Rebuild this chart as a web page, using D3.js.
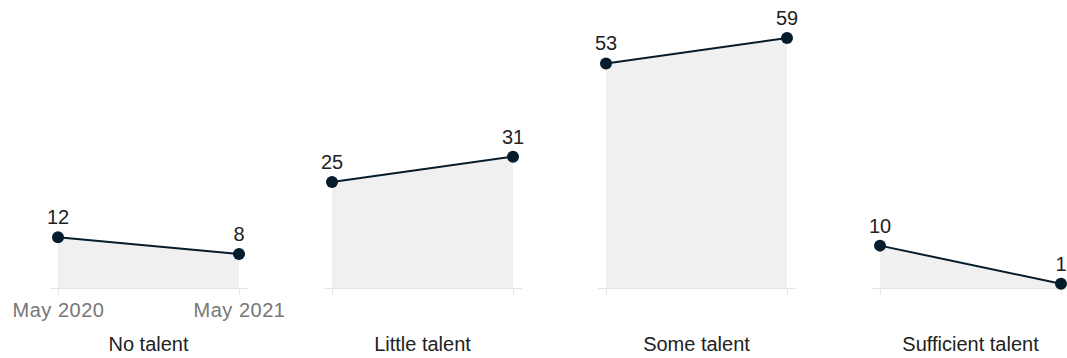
<!DOCTYPE html>
<html><head><meta charset="utf-8">
<script src="https://cdn.jsdelivr.net/npm/d3@7"></script>
<style>
html,body{margin:0;padding:0;background:#fff;}
svg{display:block;font-family:"Liberation Sans",Arial,sans-serif;}
</style></head>
<body><svg id="c" width="1067" height="358"></svg>
<script>
const categories = ["No talent", "Little talent", "Some talent", "Sufficient talent"];
const periods = ["May 2020", "May 2021"];
const may2020 = [12, 25, 53, 10];
const may2021 = [8, 31, 59, 1];

const svg = d3.select("#c");
const baseY = 288, topY = 38;
const y = d3.scaleLinear().domain([0, 59]).range([baseY, topY]);
const navy = "#051c2c";
const font = '"Liberation Sans",Arial,sans-serif';

categories.forEach((cat, i) => {
  const x0 = 58 + i * 274;
  const x = d3.scalePoint().domain(periods).range([x0, x0 + 181]);
  const g = svg.append("g");
  const data = periods.map((p, j) => ({p, v: j === 0 ? may2020[i] : may2021[i]}));

  g.append("path").datum(data)
    .attr("fill", "#f0f0f0")
    .attr("d", d3.area().x(d => x(d.p)).y0(y(0)).y1(d => y(d.v)));

  const axis = d3.axisBottom(x).tickSize(7).tickSizeOuter(0).tickPadding(0)
    .tickFormat(i === 0 ? (d => d) : () => "");
  const ag = g.append("g").attr("transform", `translate(0,${baseY})`).call(axis);
  ag.select(".domain").remove();
  ag.insert("line", ":first-child").attr("x1", x0 - 8).attr("x2", x0 + 190).attr("y1", 0.5).attr("y2", 0.5)
    .attr("stroke", "#e6e6e6");
  ag.selectAll(".tick line").attr("stroke", "#e6e6e6");
  ag.selectAll(".tick text").attr("fill", "#777").attr("font-size", 20)
    .attr("font-family", font).attr("letter-spacing", 0.5)
    .attr("dy", null).attr("y", 29);

  g.append("path").datum(data)
    .attr("fill", "none").attr("stroke", navy).attr("stroke-width", 2)
    .attr("d", d3.line().x(d => x(d.p)).y(d => y(d.v)));

  g.selectAll("circle").data(data).join("circle")
    .attr("cx", d => x(d.p)).attr("cy", d => y(d.v)).attr("r", 6).attr("fill", navy);

  g.selectAll(".val").data(data).join("text").attr("class", "val")
    .attr("x", d => x(d.p)).attr("y", d => y(d.v) - 13)
    .attr("text-anchor", "middle").attr("font-size", 20).attr("fill", "#222")
    .text(d => d.v);

  g.append("text").attr("x", x0 + 90.5).attr("y", 351).attr("text-anchor", "middle")
    .attr("font-size", 20).attr("fill", "#222").text(cat);
});
</script></body></html>
